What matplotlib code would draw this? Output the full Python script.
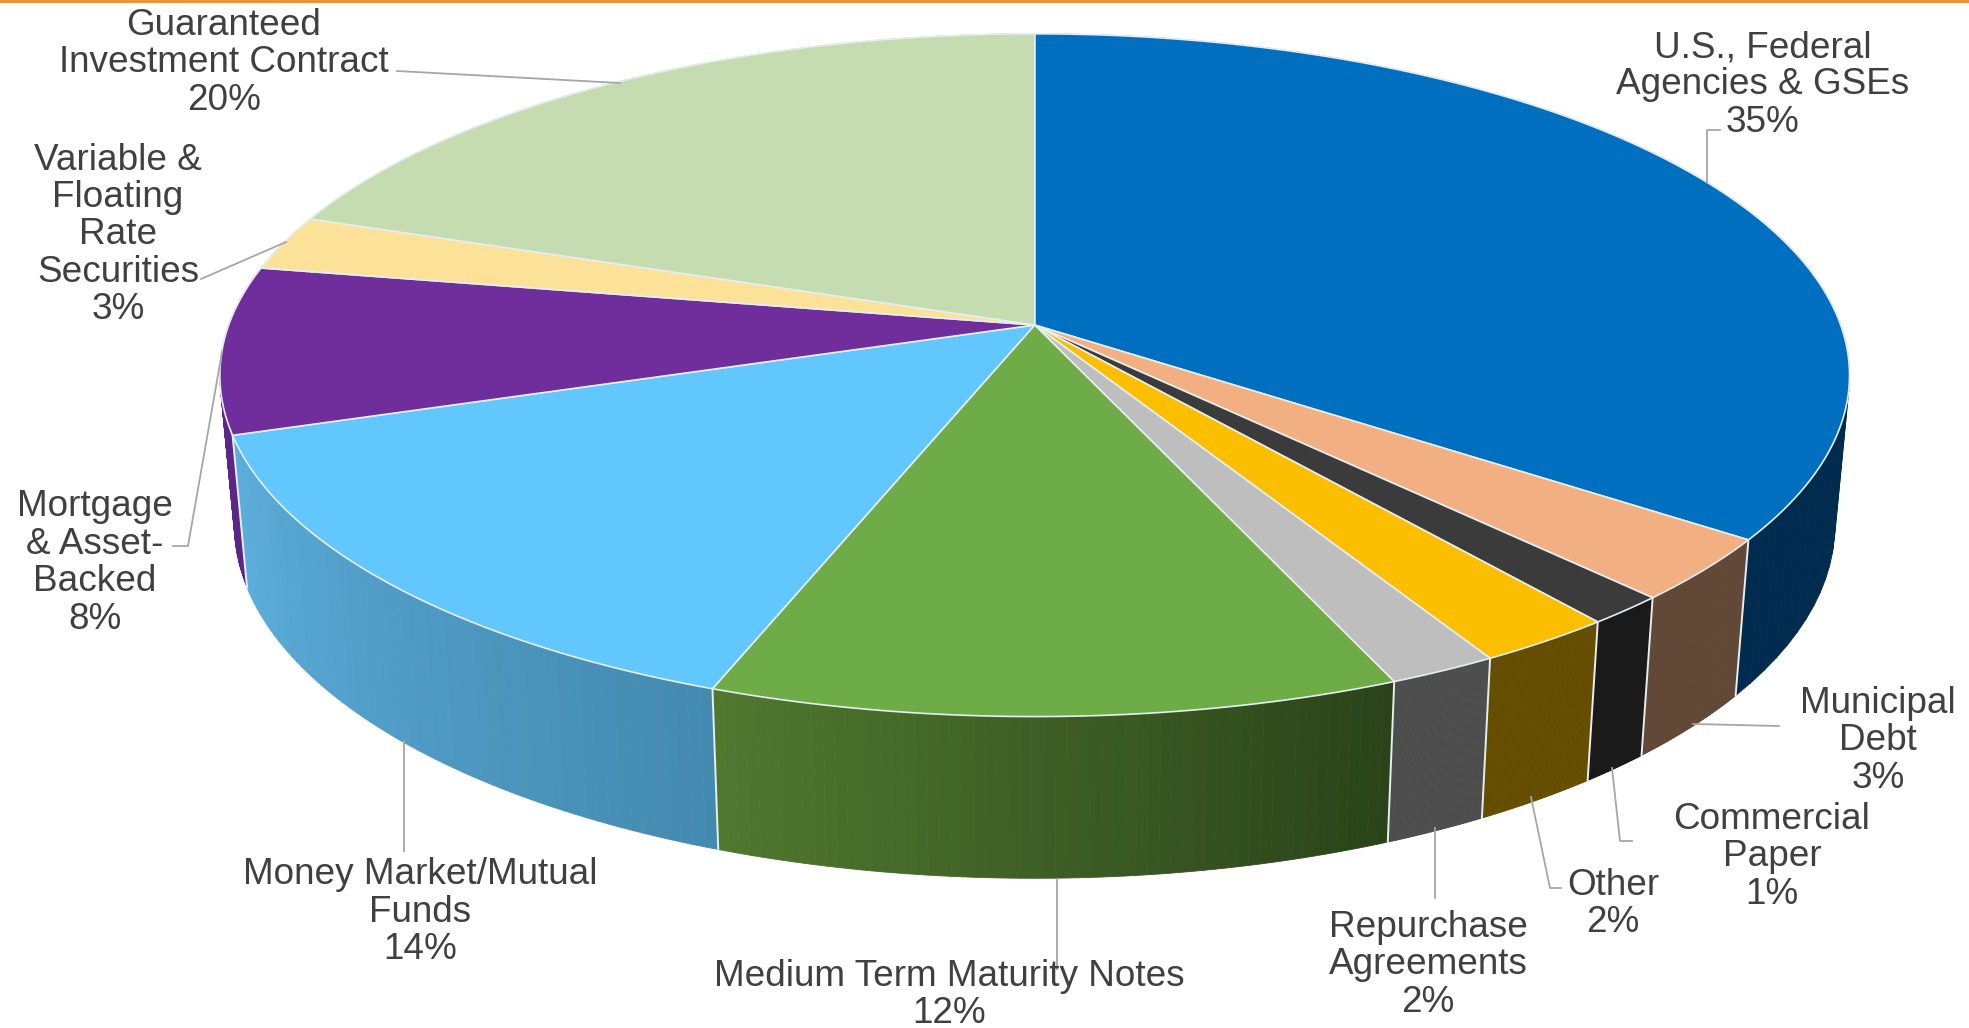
import numpy as np
import matplotlib
matplotlib.use('Agg')
import matplotlib.pyplot as plt
from matplotlib.collections import PolyCollection
from matplotlib.colors import to_rgb

nombres = ['U.S., Federal\nAgencies & GSEs', 'Municipal\nDebt', 'Commercial\nPaper', 'Other',
           'Repurchase\nAgreements', 'Medium Term Maturity Notes', 'Money Market/Mutual\nFunds',
           'Mortgage\n& Asset-\nBacked', 'Variable &\nFloating\nRate\nSecurities',
           'Guaranteed\nInvestment Contract']
# labels show these rounded
valores = [35.0, 3.0, 1.4, 2.4, 1.9, 11.9, 14.3, 7.9, 2.6, 19.6]
colores = ['#006FC0', '#F2AF82', '#3B3B3B', '#FCBF00', '#BEBEBE',
           '#6EAC48', '#62C7FD', '#6F2E9C', '#FCE198', '#C4DCAF']
pared_izq = ['#012C4F', '#614735', '#1A1A1A', '#654D00', '#4D4D4D',
             '#50782F', '#5CAEDC', '#5C2685', '#8C7A45', '#6C8058']
pared_der = ['#012C4F', '#614735', '#1A1A1A', '#654D00', '#4D4D4D',
             '#2A431A', '#448AB0', '#5C2685', '#8C7A45', '#6C8058']

# geometry of the tilted pie, in pixels
cx, cy = 1034.7, 325.0
cy_base = 473.4
R, b, k = 806.0, 334.0, 0.147
esc_x, esc_y = 0.982, 1.034

pos_textos = [(1763, 85), (1878, 741), (1772, 857), (1613, 904), (1428, 965),
              (949, 995), (420, 912), (95, 563), (118, 235), (224, 63)]
lineas = [[(1707, 182), (1707, 130), (1720, 130)],
          [(1693, 724), (1779, 726)],
          [(1612, 768), (1620, 841), (1632, 841)],
          [(1531, 797), (1550, 888), (1561, 888)],
          [(1435, 828), (1435, 898)],
          [(1057, 879), (1057, 969)],
          [(404, 741), (404, 851)],
          [(222, 352), (188, 546), (173, 546)],
          [(286, 242), (201, 279)],
          [(620, 83), (397, 71)]]


def arriba(t):
    x, y = np.sin(t), np.cos(t)
    w = 1 + k * y
    return cx + R * x / w, cy - b * y / w


def abajo(t):
    x, y = np.sin(t), np.cos(t)
    w = 1 + k * y
    return cx + esc_x * R * x / w, cy_base - esc_y * b * y / w


fig = plt.figure(figsize=(19.69, 10.28), dpi=100)
ax = fig.add_axes([0, 0, 1, 1])
ax.set_xlim(0, 1969)
ax.set_ylim(1028, 0)
ax.axis('off')

borde = '#E6EEF2'
cortes = 2 * np.pi * np.cumsum([0] + valores) / sum(valores)

# walls, back ones first so the front ones cover them
medios = (cortes[:-1] + cortes[1:]) / 2
for i in np.argsort(-np.abs(medios - np.pi)):
    t = np.linspace(cortes[i], cortes[i + 1], 61)
    xa, ya = arriba(t)
    xb, yb = abajo(t)
    tiras = []
    tonos = []
    c0, c1 = np.array(to_rgb(pared_izq[i])), np.array(to_rgb(pared_der[i]))
    for j in range(len(t) - 1):
        tiras.append([(xa[j], ya[j]), (xa[j + 1], ya[j + 1]), (xb[j + 1], yb[j + 1]), (xb[j], yb[j])])
        # the original gradient runs left to right, t runs right to left
        tonos.append(c1 + (c0 - c1) * j / (len(t) - 2))
    ax.add_collection(PolyCollection(tiras, facecolors=tonos, edgecolors=tonos, linewidths=0.6, zorder=2))

# front wall separators
for i in range(len(valores)):
    if np.pi * 0.55 < cortes[i] < np.pi * 1.4:
        xa, ya = arriba(cortes[i])
        xb, yb = abajo(cortes[i])
        ax.plot([xa, xb], [ya, yb], color=borde, lw=1.4, zorder=3)

# top face
for i in range(len(valores)):
    t = np.linspace(cortes[i], cortes[i + 1], 121)
    xa, ya = arriba(t)
    ax.fill(np.r_[cx, xa], np.r_[cy, ya], facecolor=colores[i], edgecolor=borde, lw=1.2, zorder=4)

for linea in lineas:
    xs, ys = zip(*linea)
    ax.plot(xs, ys, color='#A6A6A6', lw=1.3, zorder=5)

for nombre, valor, (x, y) in zip(nombres, valores, pos_textos):
    ax.text(x, y, f'{nombre}\n{valor:.0f}%', ha='center', va='center', fontsize=26.6,
            family='Liberation Sans', color='#404040', linespacing=1.09, zorder=6)

ax.axhline(1.2, color='#F28C1E', lw=2.0, zorder=7)

fig.savefig('out.png', dpi=100)
